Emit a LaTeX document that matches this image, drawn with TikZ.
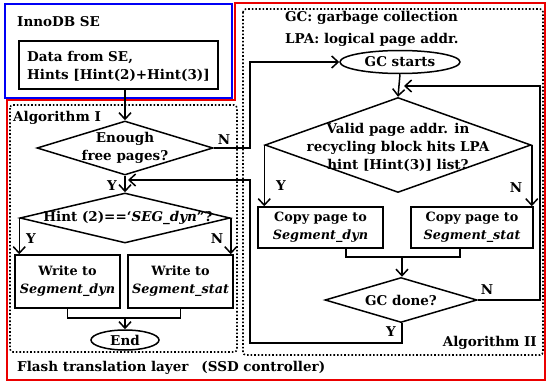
\documentclass[tikz,border=0pt]{standalone}
\usepackage{fontspec}
\setmainfont{DejaVu Serif}
\usetikzlibrary{shapes.geometric,arrows.meta}
\definecolor{fred}{RGB}{235,0,0}
\definecolor{fblue}{RGB}{0,0,245}
\begin{document}
\begin{tikzpicture}[x=1pt,y=-1pt,
  font=\fontsize{13.5}{18}\selectfont\bfseries,
  lw/.style={line width=1.5pt},
  box/.style={draw,lw,rectangle,inner sep=0pt},
  diam/.style={draw,lw,diamond,inner sep=0pt},
  ell/.style={draw,lw,ellipse,inner sep=0pt},
  arr/.style={lw,-{Straight Barb[length=6.5pt,width=12pt,line width=1.5pt]}},
  ln/.style={lw},
  dotbox/.style={line width=1.6pt,dotted,rounded corners=3pt},
  txt/.style={inner sep=0pt,align=center},
  seg/.style={font=\fontsize{12.8}{18}\selectfont\bfseries}]
\useasboundingbox (0,0) rectangle (547,383);
% outer frames
\draw[fblue,line width=2.4pt] (5,4) rectangle (232,98);
\draw[fred,line width=2.4pt] (7,100) -- (235,100) -- (235,3) -- (545,3) -- (545,380) -- (7,380) -- cycle;
\draw[dotbox] (10,105) rectangle (237,352);
\draw[dotbox] (243,9) rectangle (543,355);
% labels
\node[txt,anchor=west] (inno) at (17,22) {InnoDB SE};
\node[txt,anchor=west] (alg1) at (13,118) {Algorithm I};
\node[txt,anchor=east] (alg2) at (537,343) {Algorithm II};
\node[txt,anchor=west] (ftl) at (17,368) {Flash translation layer\hspace{13pt}(SSD controller)};
\node[txt,anchor=west] (gc) at (285,18) {GC: garbage collection};
\node[txt,anchor=west] (lpa) at (285,40) {LPA: logical page addr.};
% Algorithm I
\node[box,minimum width=199pt,minimum height=48pt] (data) at (118.5,65) {};
\node[txt,anchor=west,align=left] (datat) at (27,66) {Data from SE,\\Hints [Hint(2)+Hint(3)]};
\node[diam,minimum width=176pt,minimum height=54pt] (d1) at (125,148) {};
\node[txt] (d1t) at (125,148) {Enough\\free pages?};
\node[diam,minimum width=210pt,minimum height=50pt] (d2) at (125,218) {};
\node[txt] (d2t) at (128,218) {Hint (2)==‘\textit{SEG\_dyn}”?};
\node[box,minimum width=105pt,minimum height=53pt] (w1) at (67.5,281.5) {};
\node[txt,seg] (w1t) at (67.5,281.5) {Write to\\\textit{Segment\_dyn}};
\node[box,minimum width=105pt,minimum height=53pt] (w2) at (180.5,281.5) {};
\node[txt,seg] (w2t) at (180.5,281.5) {Write to\\\textit{Segment\_stat}};
\node[ell,minimum width=68pt,minimum height=20pt] (end) at (125,340) {End};
\node[txt] (n1) at (224,140) {N};
\node[txt] (y1) at (112,186) {Y};
\node[txt] (y2) at (31,239) {Y};
\node[txt] (n2) at (217,239) {N};
\coordinate (m1) at (125,180);
\coordinate (j1) at (125,318);
% Algorithm II
\node[ell,minimum width=120pt,minimum height=23pt] (gcs) at (400,62) {GC starts};
\node[diam,minimum width=266pt,minimum height=95pt] (d3) at (398,145) {};
\node[txt] (d3t) at (398,147) {Valid page addr. in\\recycling block hits LPA\\hint [Hint(3)] list?};
\node[box,minimum width=125pt,minimum height=41pt] (c1) at (320.5,227.5) {};
\node[txt,seg] (c1t) at (320.5,227.5) {Copy page to\\\textit{Segment\_dyn}};
\node[box,minimum width=122pt,minimum height=41pt] (c2) at (472,227.5) {};
\node[txt,seg] (c2t) at (472,227.5) {Copy page to\\\textit{Segment\_stat}};
\node[diam,minimum width=152pt,minimum height=45pt] (done) at (401,300) {};
\node[txt] (donet) at (401,300) {GC done?};
\node[txt] (y3) at (281,186) {Y};
\node[txt] (n3) at (516,188) {N};
\node[txt] (n4) at (487,290) {N};
\node[txt] (y4) at (391,332) {Y};
\coordinate (j2) at (402,257);
\coordinate (m2) at (400,86);
% connectors Algorithm I
\draw[arr] (data.south -| d1.north) -- (d1.north);
\draw[arr] (d1.south) -- (d2.north);
\draw[arr] (d2.west) -- (d2.west |- w1.north);
\draw[arr] (d2.east) -- (d2.east |- w2.north);
\draw[ln] (w1.south) -- (w1.south |- j1) -- (w2.south |- j1) -- (w2.south);
\draw[arr] (j1) -- (end.north);
\draw[arr] (d1.east) -- (250,148) -- (250,62) -- (gcs.west);
% connectors Algorithm II
\draw[arr] (gcs.south) -- (d3.north);
\draw[arr] (d3.west) -- (d3.west |- c1.north);
\draw[arr] (d3.east) -- (d3.east |- c2.north);
\draw[ln] (346,248) -- (346,257) -- (460,257) -- (460,248);
\draw[arr] (j2) -- (done.north -| j2);
\draw[arr] (done.east) -- (540,300) -- (540,86) -- ([xshift=4pt]m2);
\draw[arr] (done.south -| j2) -- (402,343) -- (250,343) -- (250,180) -- ([xshift=3pt]m1);
\end{tikzpicture}
\end{document}
